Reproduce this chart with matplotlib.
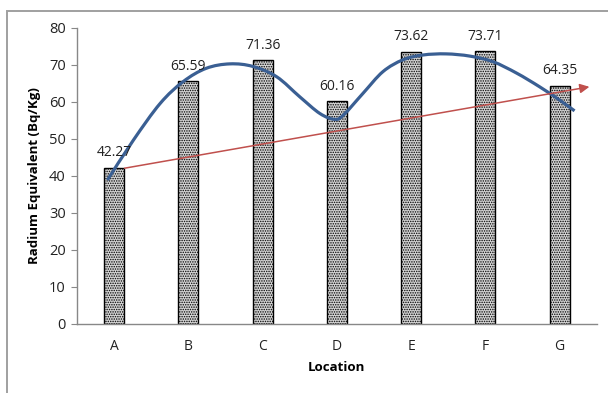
import numpy as np
import matplotlib.pyplot as plt
from matplotlib.patches import Rectangle, PathPatch
from matplotlib.path import Path

locations = ["A", "B", "C", "D", "E", "F", "G"]
ra_eq = [42.27, 65.59, 71.36, 60.16, 73.62, 73.71, 64.35]

# freehand smooth trend curve (category index, value)
curve_x = [-0.09, 0.26, 0.62, 0.93, 1.24, 1.56, 1.87, 2.19, 2.5, 2.77,
           2.97, 3.09, 3.35, 3.62, 3.89, 4.16, 4.47, 4.79, 5.10, 5.42,
           5.73, 6.0, 6.2]
curve_y = [38.9, 49.7, 59.6, 65.5, 69.1, 70.3, 69.6, 66.8, 61.4, 56.9,
           55.3, 56.5, 62.3, 68.2, 71.4, 72.7, 73.0, 72.4, 70.9, 67.8,
           64.1, 60.5, 57.6]

# straight trend arrow (category index, value)
arrow_start = [0.14, 42.1]
arrow_end = [6.40, 64.1]

y_ticks = [0, 10, 20, 30, 40, 50, 60, 70, 80]


def smooth_path(xs, ys):
    # Catmull-Rom through the points, written as cubic Bezier segments
    pts = np.column_stack([xs, ys])
    padded = np.vstack([pts[0], pts, pts[-1]])
    verts = [pts[0]]
    codes = [Path.MOVETO]
    for i in range(1, len(padded) - 2):
        p0, p1, p2, p3 = padded[i - 1], padded[i], padded[i + 1], padded[i + 2]
        verts += [p1 + (p2 - p0) / 6, p2 - (p3 - p1) / 6, p2]
        codes += [Path.CURVE4] * 3
    return Path(verts, codes)


def main():
    plt.rcParams["font.family"] = ["Open Sans", "DejaVu Sans"]
    plt.rcParams["hatch.linewidth"] = 0.7
    plt.rcParams["hatch.color"] = "#555555"

    fig = plt.figure(figsize=(6.08, 3.93), dpi=100)
    ax = fig.add_axes([0.1266, 0.1756, 0.855, 0.7532])

    x = np.arange(len(locations))
    ax.bar(x, ra_eq, width=0.27, color="#d4d4d4", edgecolor="black",
           linewidth=1.0, hatch=".......", zorder=2)

    for xi, v in zip(x, ra_eq):
        ax.text(xi, v + 2.0, f"{v:.2f}", ha="center", va="bottom",
                fontsize=10, color="#222222", zorder=5)

    ax.add_patch(PathPatch(smooth_path(curve_x, curve_y), fill=False,
                           edgecolor="#3a5f93", linewidth=2.3,
                           capstyle="butt", zorder=4))

    ax.annotate("", xy=arrow_end, xytext=arrow_start,
                arrowprops=dict(arrowstyle="-|>", color="#c0504d", lw=1.1,
                                mutation_scale=14, shrinkA=0, shrinkB=0),
                zorder=4)

    ax.set_xlim(-0.5, 6.5)
    ax.set_ylim(0, 80)
    ax.set_xticks(x)
    ax.set_xticklabels(locations)
    ax.set_yticks(y_ticks)
    ax.tick_params(axis="x", length=0, pad=11, labelsize=10, colors="#222222")
    ax.tick_params(axis="y", length=4, width=0.8, color="#888888",
                   labelsize=10.5, labelcolor="#222222", pad=4)

    for side in ("top", "right"):
        ax.spines[side].set_visible(False)
    for side in ("left", "bottom"):
        ax.spines[side].set_color("#888888")
        ax.spines[side].set_linewidth(1.0)

    ax.set_xlabel("Location", fontsize=9.5, fontweight="bold", labelpad=5)
    ax.set_ylabel("Radium Equivalent (Bq/Kg)", fontsize=9.5, fontweight="bold",
                  labelpad=6)

    # chart border
    fig.patches.append(Rectangle((7 / 608, -0.1), 1.2, 1 - 11 / 393 + 0.1,
                                 transform=fig.transFigure, fill=False,
                                 edgecolor="#a0a0a0", linewidth=1.4))

    fig.savefig("out.png", dpi=100)
    plt.close(fig)


if __name__ == "__main__":
    main()
